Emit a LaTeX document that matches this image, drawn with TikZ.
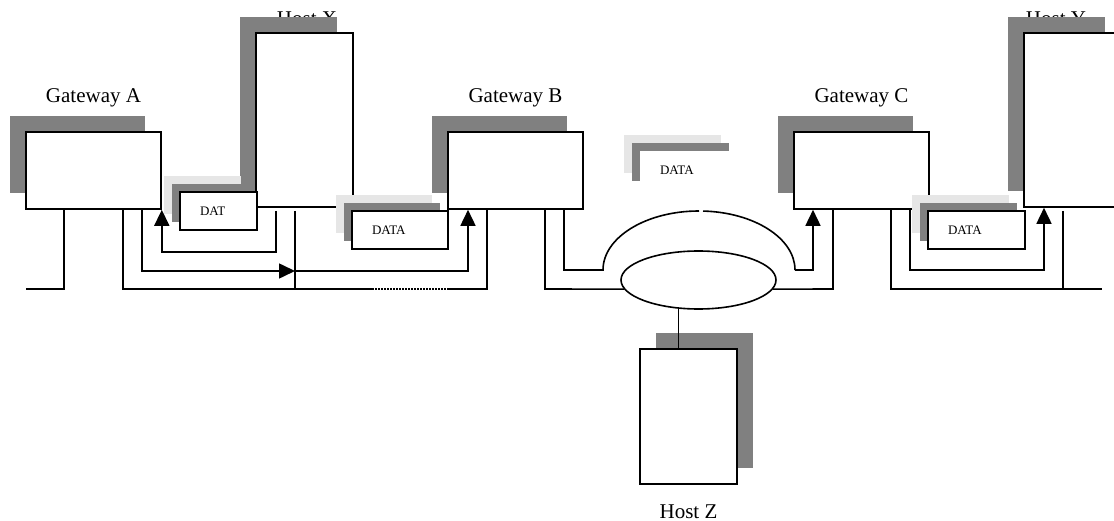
\documentclass[tikz,border=0pt]{standalone}
\usepackage{fontspec}
\setmainfont{Liberation Serif}
\usetikzlibrary{arrows.meta,shapes.geometric,shadows}
\definecolor{sombra}{HTML}{808080}
\definecolor{sombraclara}{HTML}{E6E6E6}

\begin{document}
\begin{tikzpicture}[x=1pt, y=-1pt, line join=miter,
  caja/.style={draw, fill=white, line width=1.6pt, inner sep=0pt},
  pasarela/.style={caja, minimum width=135pt, minimum height=77pt,
    drop shadow={shadow xshift=-16pt, shadow yshift=16pt, fill=sombra, opacity=1}},
  host/.style={caja, minimum width=97pt, minimum height=174pt,
    drop shadow={shadow xshift=-16pt, shadow yshift=16pt, fill=sombra, opacity=1}},
  paquete/.style={caja, minimum height=38pt, text width=#1, align=left,
    inner xsep=20pt, font=\fontsize{13}{15}\selectfont,
    drop shadow={shadow xshift=-16pt, shadow yshift=16pt, fill=sombraclara, opacity=1},
    drop shadow={shadow xshift=-8pt, shadow yshift=8pt, fill=sombra, opacity=1}},
  red/.style={ellipse, draw, line width=1.6pt, minimum width=155pt,
    minimum height=58pt, inner sep=0pt},
  rotulo/.style={anchor=base, font=\fontsize{21}{25}\selectfont},
  linea/.style={line width=1.6pt},
  flecha/.style={linea, -{Triangle[length=16pt, width=15pt]}}]
  % Marco
  \useasboundingbox (0,0) rectangle (1114,521);
  \clip (0,0) rectangle (1114,521);

  % Rotulos (los de los hosts quedan bajo la sombra)
  \node[rotulo] (tHX) at (307,26) {Host X};
  \node[rotulo] (tHY) at (1056,26) {Host Y};
  \node[rotulo] (tGA) at (93.5,103) {Gateway A};
  \node[rotulo] (tGB) at (515.5,103) {Gateway B};
  \node[rotulo] (tGC) at (861.5,103) {Gateway C};
  \node[rotulo] (tHZ) at (688.5,518) {Host Z};

  % Pasarelas y hosts
  \node[pasarela] (gwA) at (93.5,170.5) {};
  \node[pasarela] (gwB) at (515.5,170.5) {};
  \node[pasarela] (gwC) at (861.5,170.5) {};
  \node[host] (hostX) at (304.5,120) {};
  \node[host] (hostY) at (1072.5,120) {};
  \node[caja, minimum width=97pt, minimum height=135pt,
    drop shadow={shadow xshift=16pt, shadow yshift=16pt, fill=sombra, opacity=1}]
    (hostZ) at (688.5,416.5) {};
  \node[red] (ring) at (698.5,280) {};

  % Bus inferior
  \coordinate (b0) at (26,289);
  \coordinate (b1) at (64,289);
  \coordinate (b2) at (123,289);
  \coordinate (p1) at (372,289);
  \coordinate (p2) at (447,289);
  \coordinate (b3) at (487,289);
  \coordinate (b4) at (295,289);
  \coordinate (b5) at (545,289);
  \coordinate (b6) at (833,289);
  \coordinate (b7) at (891,289);
  \coordinate (b8) at (1102,289);
  \coordinate (b9) at (1063,289);
  \draw[linea] (b0) -- (b1) -- (gwA.south -| b1);
  \draw[linea] (gwA.south -| b2) -- (b2) -- (p1);
  \draw[linea, dash pattern=on 1.5pt off 1.5pt] (p1) -- (p2);
  \draw[linea] (p2) -- (b3) -- (gwB.south -| b3);
  \draw[linea, shorten <=3pt] (hostX.south -| b4) -- (b4);
  \draw[linea] (gwB.south -| b5) -- (b5) -- (ring.187);
  \draw[linea] (ring.353) -- (b6) -- (gwC.south -| b6);
  \draw[linea] (gwC.south -| b7) -- (b7) -- (b8);
  \draw[linea, shorten <=3pt] (hostY.south -| b9) -- (b9);
  \draw[linea] (ring.235) -- (hostZ.north -| ring.235);

  % Recorrido de los datos
  \coordinate (r1) at (276,252);
  \coordinate (r2) at (142,271);
  \coordinate (m1) at (295,271);
  \coordinate (r3) at (468,271);
  \coordinate (r4) at (564,270);
  \coordinate (arcL) at (603,270);
  \coordinate (arcR) at (795,270);
  \coordinate (r5) at (813,270);
  \coordinate (r6) at (910,270);
  \coordinate (r7) at (1044,270);
  \draw[flecha, shorten <=3pt] (hostX.south -| r1) -- (r1) -| (gwA.south east);
  \draw[flecha] (gwA.south -| r2) -- (r2) -- (m1);
  \draw[flecha] (m1) -- (r3) -- (gwB.south -| r3);
  \draw[linea] (gwB.south -| r4) -- (r4) -- (arcL)
    arc[start angle=180, end angle=270, x radius=96, y radius=59];
  \draw[linea] (arcR) arc[start angle=360, end angle=272.4, x radius=96, y radius=59];
  \draw[flecha] (arcR) -- (r5) -- (gwC.south -| r5);
  \draw[flecha] (gwC.south -| r6) -- (r6) -- (r7) -- (hostY.south -| r7);

  % Paquetes
  \node[paquete=37pt] (pq1) at (218.5,211) {DAT};
  \node[paquete=56pt] (pq2) at (400,230) {DATA};
  \node[paquete=57pt, draw=none] (pq3) at (688.5,170.5) {DATA};
  \node[paquete=57pt] (pq4) at (976.5,230) {DATA};
\end{tikzpicture}
\end{document}
